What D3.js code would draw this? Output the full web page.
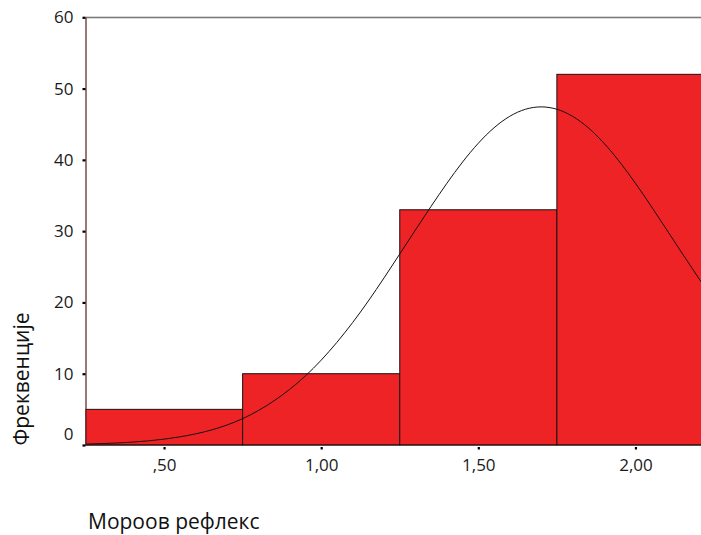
<!DOCTYPE html>
<html>
<head>
<meta charset="utf-8">
<script src="https://cdn.jsdelivr.net/npm/d3@7"></script>
<style>
  body { margin: 0; background: #fff; }
  svg { display: block; }
</style>
</head>
<body>
<div id="chart"></div>
<script>
// histogram bins (lower edge, upper edge, count)
var binStart = [0.25, 0.75, 1.25, 1.75];
var binEnd = [0.75, 1.25, 1.75, 2.25];
var binCount = [5, 10, 33, 52];

// normal curve
var curveX = [0.25, 0.35, 0.45, 0.55, 0.65, 0.75, 0.85, 0.95, 1.05, 1.15, 1.25,
  1.35, 1.45, 1.55, 1.65, 1.75, 1.85, 1.95, 2.05, 2.15, 2.25];
var curveY = [0.13, 0.28, 0.58, 1.14, 2.1, 3.7, 6.2, 9.7, 14.4, 20.2, 26.8,
  33.5, 39.7, 44.5, 47.1, 47.1, 44.5, 39.7, 33.5, 26.8, 20.2];

var xTicks = [0.5, 1.0, 1.5, 2.0];
var xTickLabels = [",50", "1,00", "1,50", "2,00"];
var yTicks = [0, 10, 20, 30, 40, 50, 60];

var width = 701, height = 535;
var plotLeft = 85.5, plotRight = 701, plotTop = 17.3, plotBottom = 445;

var svg = d3.select("#chart").append("svg")
  .attr("width", width)
  .attr("height", height);

var x = d3.scaleLinear().domain([0.25, 2.25]).range([plotLeft, 714]);
var y = d3.scaleLinear().domain([0, 60]).range([plotBottom, plotTop]);

svg.append("clipPath").attr("id", "plot")
  .append("rect")
  .attr("x", plotLeft).attr("y", 0)
  .attr("width", plotRight - plotLeft).attr("height", plotBottom + 1);

// top frame line
svg.append("line")
  .attr("x1", plotLeft).attr("x2", plotRight)
  .attr("y1", plotTop).attr("y2", plotTop)
  .attr("stroke", "#3a3a3a").attr("stroke-width", 1);
svg.append("line")
  .attr("x1", plotLeft).attr("x2", plotRight)
  .attr("y1", plotTop + 1).attr("y2", plotTop + 1)
  .attr("stroke", "#d4d4d4").attr("stroke-width", 1);

var bars = binCount.map(function (c, i) {
  return { x0: binStart[i], x1: binEnd[i], n: c };
});

// bars
svg.append("g").attr("clip-path", "url(#plot)")
  .selectAll("rect")
  .data(bars)
  .enter()
  .append("rect")
  .attr("x", function (d) { return x(d.x0); })
  .attr("y", function (d) { return y(d.n); })
  .attr("width", function (d) { return x(d.x1) - x(d.x0); })
  .attr("height", function (d) { return y(0) - y(d.n); })
  .attr("fill", "#ee2326")
  .attr("stroke", "#1a1010")
  .attr("stroke-width", 1);

// normal curve
var pts = curveX.map(function (v, i) { return [v, curveY[i]]; });
svg.append("path")
  .datum(pts)
  .attr("clip-path", "url(#plot)")
  .attr("fill", "none")
  .attr("stroke", "#1a1010")
  .attr("stroke-width", 1)
  .attr("d", d3.line()
    .x(function (d) { return x(d[0]); })
    .y(function (d) { return y(d[1]); })
    .curve(d3.curveNatural));

// baseline
svg.append("line")
  .attr("x1", plotLeft).attr("x2", plotRight)
  .attr("y1", plotBottom).attr("y2", plotBottom)
  .attr("stroke", "#2a1010").attr("stroke-width", 1.2);

// y axis
var yAxis = svg.append("g")
  .attr("transform", "translate(" + plotLeft + ",0)")
  .call(d3.axisLeft(y).tickValues(yTicks).tickSize(3).tickPadding(9).tickSizeOuter(0));
yAxis.select(".domain").attr("stroke", "#5a1c1c").attr("stroke-width", 1.2);
yAxis.selectAll(".tick line").attr("stroke", "#000").attr("stroke-width", 2.2);
yAxis.selectAll(".tick text")
  .style("font-family", "'Open Sans', sans-serif")
  .style("font-size", "17px")
  .attr("fill", "#1a1a1a")
  .attr("dy", function (d) { return d === 0 ? "-0.3em" : "0.32em"; });

// x axis
var xAxis = svg.append("g")
  .attr("transform", "translate(0," + (plotBottom + 2) + ")")
  .call(d3.axisBottom(x).tickValues(xTicks).tickSize(2.5).tickPadding(9.5)
    .tickFormat(function (d, i) { return xTickLabels[i]; }));
xAxis.select(".domain").remove();
xAxis.selectAll(".tick line").attr("stroke", "#000").attr("stroke-width", 2.2);
xAxis.selectAll(".tick text")
  .style("font-family", "'Open Sans', sans-serif")
  .style("font-size", "17px")
  .attr("fill", "#1a1a1a");

// axis titles
svg.append("text")
  .attr("transform", "translate(29,379) rotate(-90)")
  .attr("text-anchor", "middle")
  .style("font-family", "'Open Sans', sans-serif")
  .style("font-size", "21px")
  .attr("fill", "#111")
  .text("Фреквенције");

svg.append("text")
  .attr("x", 88)
  .attr("y", 529)
  .style("font-family", "'Open Sans', sans-serif")
  .style("font-size", "21px")
  .attr("fill", "#111")
  .text("Мороов рефлекс");
</script>
</body>
</html>
